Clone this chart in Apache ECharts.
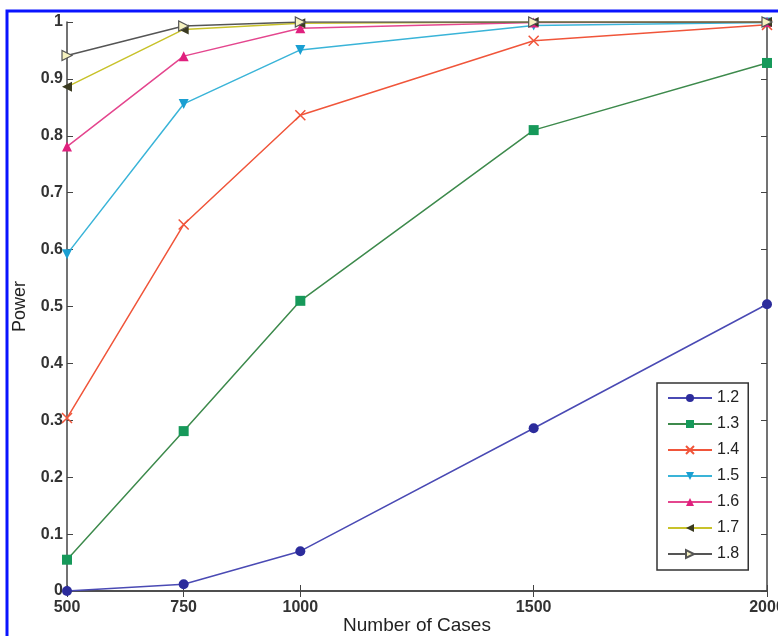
<!DOCTYPE html>
<html lang="en">

<head>
    <meta charset="UTF-8">
    <title>Power vs Number of Cases</title>
    <script src="https://cdn.jsdelivr.net/npm/echarts@6/dist/echarts.min.js"></script>
    <style>
        body { margin: 0; background: #fff; }
        #myChart { width: 778px; height: 636px; }
    </style>
</head>

<body>
    <div id="myChart"></div>
    <script>
        var chartDom = document.getElementById('myChart');
        var myChart = echarts.init(chartDom);
        var option;

        // x positions (number of cases)
        const cases = [500, 750, 1000, 1500, 2000];
        const names = ['1.2', '1.3', '1.4', '1.5', '1.6', '1.7', '1.8'];

        // power per relative risk
        const p12 = [0.0, 0.012, 0.07, 0.286, 0.504];
        const p13 = [0.055, 0.281, 0.51, 0.81, 0.928];
        const p14 = [0.304, 0.644, 0.836, 0.967, 0.995];
        const p15 = [0.592, 0.856, 0.951, 0.994, 0.999];
        const p16 = [0.781, 0.94, 0.989, 0.999, 1.0];
        const p17 = [0.886, 0.987, 0.998, 1.0, 1.0];
        const p18 = [0.941, 0.993, 1.0, 1.0, 1.0];

        const xTicks = [500, 750, 1000, 1500, 2000];

        function pairs(vals) {
            return cases.map(function (c, i) { return [c, vals[i]]; });
        }

        function mk(name, vals, lineColor, markColor, symbol, rotate, extra) {
            var s = {
                name: name,
                type: 'line',
                data: pairs(vals),
                symbol: symbol,
                symbolSize: 10,
                symbolRotate: rotate,
                lineStyle: { color: lineColor, width: 1.5 },
                itemStyle: { color: markColor },
                emphasis: { disabled: true },
                animation: false
            };
            if (extra) Object.assign(s.itemStyle, extra);
            return s;
        }

        const axisColor = '#444';

        option = {
            backgroundColor: '#fff',
            animation: false,
            textStyle: { fontFamily: 'Liberation Sans, Arial, sans-serif' },
            graphic: [{
                type: 'rect',
                shape: { x: 7, y: 11, width: 820, height: 700 },
                style: { fill: 'none', stroke: '#0a14ff', lineWidth: 3 },
                z: 100
            }],
            grid: { left: 67, right: 11, top: 22, bottom: 45, outerBoundsMode: 'none', containLabel: false },
            legend: {
                orient: 'vertical',
                left: 657,
                top: 383,
                padding: [7, 9, 8, 10],
                itemWidth: 44,
                itemHeight: 10,
                itemGap: 10,
                borderColor: '#333',
                borderWidth: 1.5,
                backgroundColor: '#fff',
                textStyle: { fontSize: 16, color: '#222' },
                data: names
            },
            xAxis: [{
                type: 'value',
                min: 500,
                max: 2000,
                interval: 250,
                name: 'Number of Cases',
                nameLocation: 'middle',
                nameGap: 25,
                nameMoveOverlap: false,
                nameTextStyle: { fontSize: 19, color: '#222' },
                axisLine: { lineStyle: { color: axisColor, width: 1.5 } },
                axisTick: { inside: true, length: 6, customValues: xTicks, lineStyle: { color: axisColor } },
                axisLabel: {
                    customValues: xTicks,
                    fontSize: 16,
                    fontWeight: 'bold',
                    color: '#333',
                    margin: 9,
                    formatter: function (v) { return String(v); }
                },
                splitLine: { show: false }
            }, {
                type: 'value',
                position: 'top',
                min: 500,
                max: 2000,
                interval: 250,
                axisLine: { lineStyle: { color: axisColor, width: 1.5 } },
                axisTick: { inside: true, length: 6, customValues: xTicks, lineStyle: { color: axisColor } },
                axisLabel: { show: false },
                splitLine: { show: false }
            }],
            yAxis: [{
                type: 'value',
                min: 0,
                max: 1,
                interval: 0.1,
                name: 'Power',
                nameLocation: 'middle',
                nameGap: 38,
                nameTextStyle: { fontSize: 18, color: '#222' },
                axisLine: { show: true, lineStyle: { color: axisColor, width: 1.5 } },
                axisTick: { show: true, inside: true, length: 6, lineStyle: { color: axisColor } },
                axisLabel: {
                    fontSize: 16,
                    fontWeight: 'bold',
                    color: '#333',
                    margin: 4,
                    formatter: function (v) { return v === 0 ? '0' : v === 1 ? '1' : v.toFixed(1); }
                },
                splitLine: { show: false }
            }, {
                type: 'value',
                position: 'right',
                min: 0,
                max: 1,
                interval: 0.1,
                axisLine: { show: true, lineStyle: { color: axisColor, width: 1.5 } },
                axisTick: { show: true, inside: true, length: 6, lineStyle: { color: axisColor } },
                axisLabel: { show: false },
                splitLine: { show: false }
            }],
            series: [
                mk('1.2', p12, '#4a4ab4', '#2c2c9c', 'circle', 0),
                mk('1.3', p13, '#3d8a4c', '#16995a', 'rect', 0),
                mk('1.4', p14, '#f0553a', 'none', 'path://M0,0L10,10M10,0L0,10', 0,
                    { borderColor: '#f0553a', borderWidth: 1.5 }),
                mk('1.5', p15, '#3ab4d8', '#1a9fd2', 'triangle', 180),
                mk('1.6', p16, '#e4468e', '#e0207e', 'triangle', 0),
                mk('1.7', p17, '#c8c22a', '#3a3a20', 'triangle', 90),
                mk('1.8', p18, '#555555', '#f6f2c0', 'triangle', -90,
                    { borderColor: '#555', borderWidth: 1.2 })
            ]
        };

        option && myChart.setOption(option);
    </script>

</body>

</html>
